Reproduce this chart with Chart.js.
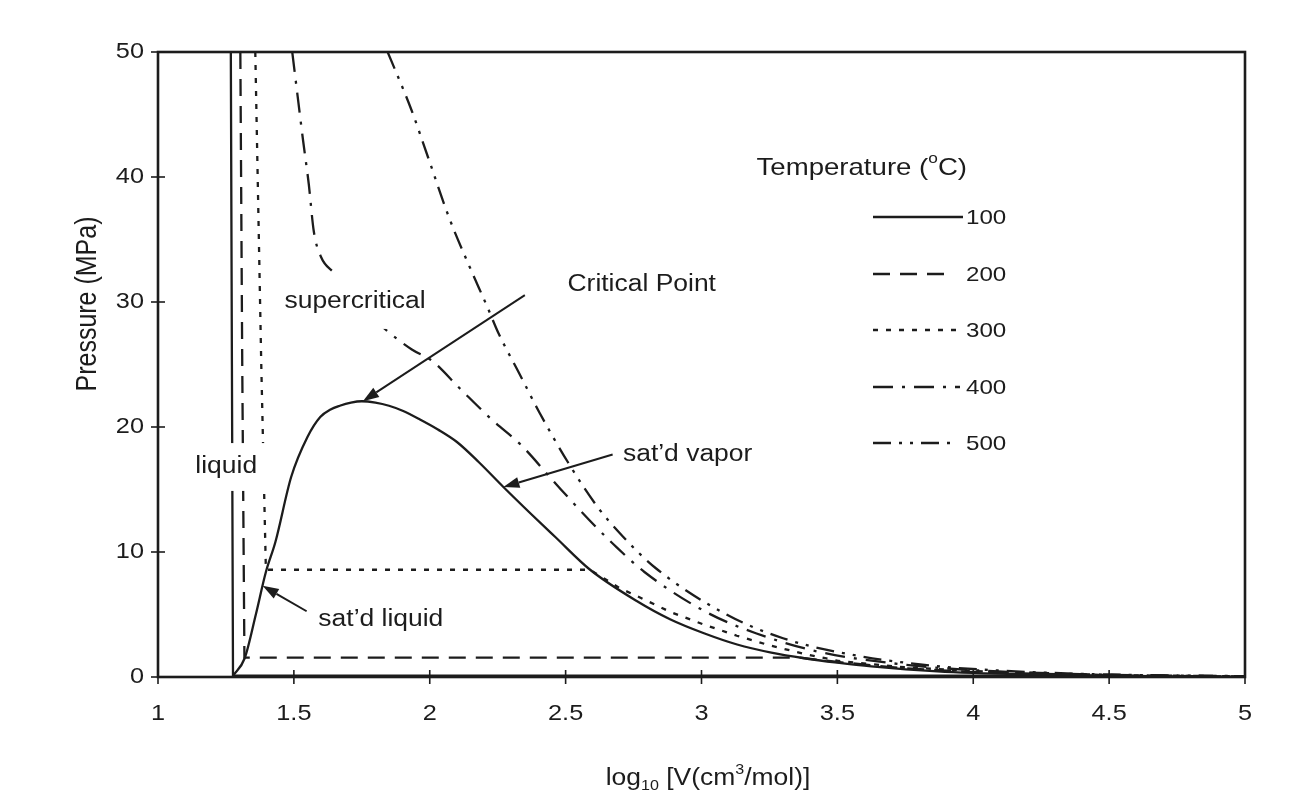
<!DOCTYPE html>
<html>
<head>
<meta charset="utf-8">
<title>Water isotherms, P vs log V</title>
<script src="https://cdn.jsdelivr.net/npm/chart.js@4.4.1/dist/chart.umd.min.js"></script>
<style>
  html, body { margin: 0; padding: 0; background: #fff; }
  canvas { display: block; }
</style>
</head>
<body>
<canvas id="pvChart" width="1311" height="796"></canvas>
<script>
// log10 V (cm3/mol) and pressure (MPa)
const domeLogV = [1.276, 1.319, 1.36, 1.397, 1.432, 1.49, 1.55, 1.597, 1.635, 1.669, 1.71, 1.75, 1.80, 1.85, 1.90, 1.964, 2.03, 2.10, 2.18, 2.271, 2.37, 2.462, 2.589, 2.76, 2.886, 3.009, 3.131, 3.257, 3.378, 3.50, 3.625, 3.868, 4.2, 4.48];
const domeP    = [0.1, 1.5, 5.0, 8.4, 10.8, 16.0, 19.2, 20.8, 21.4, 21.7, 21.95, 22.06, 21.95, 21.7, 21.3, 20.6, 19.8, 18.8, 17.2, 15.2, 13.1, 11.2, 8.6, 6.1, 4.6, 3.5, 2.6, 1.95, 1.5, 1.15, 0.85, 0.45, 0.2, 0.1];

const t100LogV = [1.268, 1.272, 1.276, 2.0, 3.0, 4.0, 4.48, 4.75, 5.0];
const t100P    = [50, 25, 0.1, 0.1, 0.1, 0.1, 0.1, 0.055, 0.03];

const t200LogV = [1.303, 1.31, 1.318, 3.36, 3.5, 3.75, 4.0, 4.5, 5.0];
const t200P    = [50, 25, 1.55, 1.55, 1.2, 0.69, 0.39, 0.124, 0.04];

const t300LogV = [1.358, 1.38, 1.397, 2.589, 2.70, 2.76, 2.886, 3.008, 3.13, 3.256, 3.378, 3.50, 3.747, 4.0, 4.5, 5.0];
const t300P    = [50, 25, 8.58, 8.58, 7.1, 6.5, 5.2, 4.2, 3.3, 2.5, 1.85, 1.3, 0.78, 0.47, 0.15, 0.048];

const t400LogV = [1.494, 1.534, 1.555, 1.573, 1.60, 1.649, 1.74, 1.837, 1.934, 2.008, 2.11, 2.233, 2.334, 2.458, 2.585, 2.677, 2.79, 3.017, 3.2, 3.435, 3.742, 4.0, 4.5, 5.0];
const t400P    = [50, 42.9, 39.4, 35.7, 33.6, 32.3, 29.8, 27.8, 26.2, 25.3, 23.1, 20.5, 18.6, 15.6, 12.6, 10.6, 8.4, 5.2, 3.5, 2.0, 1.0, 0.55, 0.18, 0.056];

const t500LogV = [1.845, 1.932, 1.995, 2.072, 2.149, 2.214, 2.253, 2.329, 2.405, 2.508, 2.621, 2.708, 2.832, 3.092, 3.3, 3.50, 3.805, 4.107, 4.5, 5.0];
const t500P    = [50, 45.4, 41.5, 36.7, 32.7, 29.5, 27.5, 24.3, 21.1, 17.2, 13.5, 11.3, 8.7, 5.0, 3.1, 2.0, 1.0, 0.5, 0.2, 0.064];

const temperatures = ["100", "200", "300", "400", "500"];
const logVTicks = [1, 1.5, 2, 2.5, 3, 3.5, 4, 4.5, 5];
const pressureTicks = [0, 10, 20, 30, 40, 50];

const ink = "#1c1c1c";
const FONT = "'Liberation Sans', Arial, Helvetica, sans-serif";
const STRETCH = 1.15; // the scanned lettering is a bit wide

// dash patterns, same order as temperatures
const dashes = [[], [17, 10], [5, 8], [20, 9, 3, 9], [18, 8, 3, 8, 3, 8]];

function toPoints(xs, ys) {
  return xs.map((x, i) => ({ x: x, y: ys[i] }));
}

function setFont(ctx, size) {
  ctx.font = size + "px " + FONT;
}

function textWidth(ctx, text) {
  return ctx.measureText(text).width * STRETCH;
}

function drawText(ctx, text, x, y, align) {
  ctx.save();
  ctx.translate(x, y);
  ctx.scale(STRETCH, 1);
  ctx.textAlign = align || "left";
  ctx.textBaseline = "middle";
  ctx.fillText(text, 0, 0);
  ctx.restore();
}

// parts: [text, "", "sub" or "sup"]
function drawRich(ctx, parts, x, y, size, align) {
  const small = Math.round(size * 0.62);
  let total = 0;
  parts.forEach(p => {
    setFont(ctx, p[1] ? small : size);
    total += textWidth(ctx, p[0]);
  });
  let cx = align === "right" ? x - total : x - total / 2;
  parts.forEach(p => {
    setFont(ctx, p[1] ? small : size);
    let dy = 0;
    if (p[1] === "sub") dy = size * 0.3;
    if (p[1] === "sup") dy = -size * 0.38;
    drawText(ctx, p[0], cx, y + dy, "left");
    cx += textWidth(ctx, p[0]);
  });
}

function arrow(ctx, x0, y0, x1, y1) {
  const ang = Math.atan2(y1 - y0, x1 - x0);
  const len = 16, half = 5.5;
  const bx = x1 - len * Math.cos(ang), by = y1 - len * Math.sin(ang);
  ctx.beginPath();
  ctx.moveTo(x0, y0);
  ctx.lineTo(bx, by);
  ctx.lineWidth = 2;
  ctx.stroke();
  ctx.beginPath();
  ctx.moveTo(x1, y1);
  ctx.lineTo(bx - half * Math.sin(ang), by + half * Math.cos(ang));
  ctx.lineTo(bx + half * Math.sin(ang), by - half * Math.cos(ang));
  ctx.closePath();
  ctx.fill();
}

function boxedLabel(ctx, text, cx, cy, size, padX, padY) {
  setFont(ctx, size);
  const w = textWidth(ctx, text);
  const h = size * 0.95;
  ctx.fillStyle = "#fff";
  ctx.fillRect(cx - w / 2 - padX, cy - h / 2 - padY, w + 2 * padX, h + 2 * padY);
  ctx.fillStyle = ink;
  drawText(ctx, text, cx, cy, "center");
}

const decorPlugin = {
  id: "decor",
  afterDatasetsDraw(chart) {
    const ctx = chart.ctx;
    const xs = chart.scales.x, ys = chart.scales.y;
    const area = chart.chartArea;
    const px = v => xs.getPixelForValue(v);
    const py = v => ys.getPixelForValue(v);

    ctx.save();
    ctx.fillStyle = ink;
    ctx.strokeStyle = ink;

    // region labels that blank the lines behind them
    boxedLabel(ctx, "liquid", px(1.251), py(16.8), 23, 11, 13);
    boxedLabel(ctx, "supercritical", px(1.725), py(30.0), 23, 4, 16);

    setFont(ctx, 23);
    drawText(ctx, "Critical Point", px(2.78), py(31.4), "center");
    drawText(ctx, "sat\u2019d vapor", px(2.949), py(17.8), "center");
    drawText(ctx, "sat\u2019d liquid", px(1.82), py(4.57), "center");

    arrow(ctx, px(2.35), py(30.55), px(1.754), py(22.07));
    arrow(ctx, px(2.673), py(17.8), px(2.271), py(15.2));
    arrow(ctx, px(1.547), py(5.26), px(1.385), py(7.3));

    // legend
    drawRich(ctx, [["Temperature (", ""], ["o", "sup"], ["C)", ""]], 967, 168, 24, "right");
    const legendY = [217, 274, 330, 387, 443];
    const legendEnd = [963, 951, 963, 960, 951];
    temperatures.forEach((t, i) => {
      ctx.beginPath();
      ctx.setLineDash(dashes[i]);
      ctx.lineWidth = 2.3;
      ctx.moveTo(873, legendY[i]);
      ctx.lineTo(legendEnd[i], legendY[i]);
      ctx.stroke();
      ctx.setLineDash([]);
      setFont(ctx, 21);
      drawText(ctx, t, 966, legendY[i] + 1, "left");
    });

    // frame
    ctx.lineWidth = 2.6;
    ctx.strokeRect(area.left, area.top, area.right - area.left, area.bottom - area.top);

    // ticks crossing the axes and their labels
    ctx.lineWidth = 1.6;
    setFont(ctx, 22);
    ys.ticks.forEach(t => {
      const y = py(t.value);
      ctx.beginPath();
      ctx.moveTo(area.left - 7, y);
      ctx.lineTo(area.left + 7, y);
      ctx.stroke();
      drawText(ctx, String(t.value), area.left - 14, y, "right");
    });
    xs.ticks.forEach(t => {
      const x = px(t.value);
      ctx.beginPath();
      ctx.moveTo(x, area.bottom - 7);
      ctx.lineTo(x, area.bottom + 7);
      ctx.stroke();
      drawText(ctx, String(t.value), x, area.bottom + 37, "center");
    });

    // axis titles
    drawRich(ctx, [["log", ""], ["10", "sub"], [" [V(cm", ""], ["3", "sup"], ["/mol)]", ""]], 708, 779, 23, "center");

    ctx.translate(88, 304);
    ctx.rotate(-Math.PI / 2);
    ctx.scale(1, STRETCH);
    setFont(ctx, 25);
    ctx.textAlign = "center";
    ctx.textBaseline = "middle";
    ctx.fillText("Pressure (MPa)", 0, 0);
    ctx.restore();
  }
};

function isotherm(xs, ys, i, smooth) {
  return {
    label: temperatures[i],
    data: toPoints(xs, ys),
    borderColor: ink,
    borderWidth: 2.3,
    borderDash: dashes[i],
    cubicInterpolationMode: smooth ? "monotone" : "default",
    pointRadius: 0,
    fill: false
  };
}

const ctx = document.getElementById("pvChart").getContext("2d");
new Chart(ctx, {
  type: "line",
  data: {
    datasets: [
      {
        label: "saturation",
        data: toPoints(domeLogV, domeP),
        borderColor: ink,
        borderWidth: 2.3,
        cubicInterpolationMode: "monotone",
        pointRadius: 0,
        fill: false
      },
      isotherm(t100LogV, t100P, 0, false),
      isotherm(t200LogV, t200P, 1, false),
      isotherm(t300LogV, t300P, 2, false),
      isotherm(t400LogV, t400P, 3, true),
      isotherm(t500LogV, t500P, 4, true)
    ]
  },
  options: {
    responsive: false,
    animation: false,
    events: [],
    layout: { padding: { top: 52, right: 66, left: 0, bottom: 0 } },
    elements: { line: { tension: 0 } },
    plugins: {
      legend: { display: false },
      tooltip: { enabled: false }
    },
    scales: {
      x: {
        type: "linear",
        min: 1,
        max: 5,
        ticks: { display: false },
        grid: { display: false },
        border: { display: false },
        afterBuildTicks(scale) { scale.ticks = logVTicks.map(v => ({ value: v })); },
        afterFit(scale) { scale.height = 119; }
      },
      y: {
        type: "linear",
        min: 0,
        max: 50,
        ticks: { display: false },
        grid: { display: false },
        border: { display: false },
        afterBuildTicks(scale) { scale.ticks = pressureTicks.map(v => ({ value: v })); },
        afterFit(scale) { scale.width = 158; }
      }
    }
  },
  plugins: [decorPlugin]
});
</script>
</body>
</html>
